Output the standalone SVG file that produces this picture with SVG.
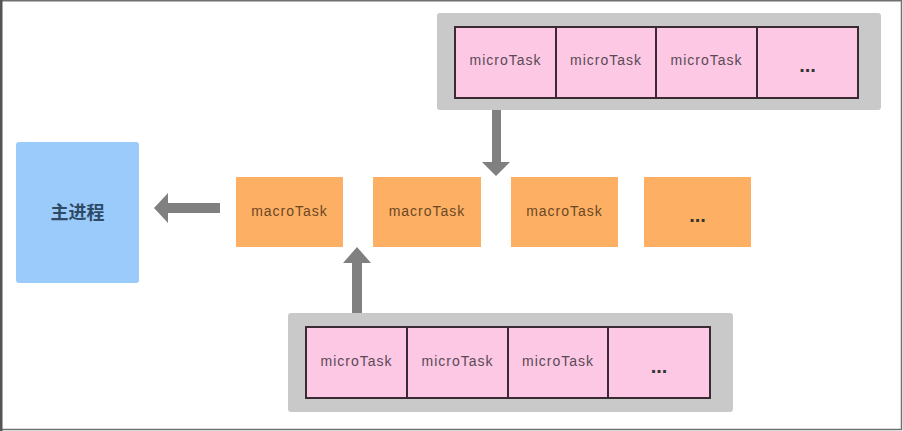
<svg xmlns="http://www.w3.org/2000/svg" width="903" height="431" viewBox="0 0 903 431">
<defs>
<style>
.frame{fill:#fff;stroke:#707070;stroke-width:1.5}
.main{fill:#9ACBFA}
.mainT{font-family:"Noto Sans CJK SC","Liberation Sans",sans-serif;font-size:18px;font-weight:bold;fill:#2E4A66}
.macro{fill:#FDB063}
.macroT{font-family:"Liberation Sans",Arial,sans-serif;font-size:14px;letter-spacing:1px;fill:#6B4726}
.tray{fill:#C9C9C9}
.cell{fill:#FCC8E4;stroke:#3A2A33;stroke-width:2}
.microT{font-family:"Liberation Sans",Arial,sans-serif;font-size:14px;letter-spacing:1px;fill:#5A4A55}
.dots{font-family:"Liberation Sans",Arial,sans-serif;font-size:20px;font-weight:bold;fill:#333}
.arrow{fill:#808080}
</style>
</defs>
<rect class="frame" x="1" y="0.75" width="900.5" height="428.75"/>
<rect x="0" y="0" width="2.5" height="431" fill="#555"/>

<g id="main-process">
<rect class="main" x="16" y="142" width="123" height="141" rx="3"/>
<text class="mainT" x="77.5" y="219" text-anchor="middle">主进程</text>
</g>

<g id="macro1">
<rect class="macro" x="236" y="177" width="107" height="70"/>
<text class="macroT" x="289.5" y="216" text-anchor="middle">macroTask</text>
</g>
<g id="macro2">
<rect class="macro" x="373" y="177" width="108" height="70"/>
<text class="macroT" x="427" y="216" text-anchor="middle">macroTask</text>
</g>
<g id="macro3">
<rect class="macro" x="511" y="177" width="107" height="70"/>
<text class="macroT" x="564.5" y="216" text-anchor="middle">macroTask</text>
</g>
<g id="macro4">
<rect class="macro" x="644" y="177" width="107" height="70"/>
<text class="dots" x="697.5" y="222" text-anchor="middle">...</text>
</g>

<g id="micro-queue-top">
<rect class="tray" x="437" y="13" width="444" height="97" rx="3"/>
<rect class="cell" x="455" y="27" width="101" height="71"/>
<rect class="cell" x="556" y="27" width="100" height="71"/>
<rect class="cell" x="656" y="27" width="101" height="71"/>
<rect class="cell" x="757" y="27" width="101" height="71"/>
<text class="microT" x="505.5" y="65" text-anchor="middle">microTask</text>
<text class="microT" x="606" y="65" text-anchor="middle">microTask</text>
<text class="microT" x="706.5" y="65" text-anchor="middle">microTask</text>
<text class="dots" x="807.5" y="72" text-anchor="middle">...</text>
</g>

<g id="micro-queue-bottom">
<rect class="tray" x="288" y="313" width="445" height="99" rx="3"/>
<rect class="cell" x="306" y="327" width="101" height="71"/>
<rect class="cell" x="407" y="327" width="101" height="71"/>
<rect class="cell" x="508" y="327" width="100" height="71"/>
<rect class="cell" x="608" y="327" width="102" height="71"/>
<text class="microT" x="356.5" y="366" text-anchor="middle">microTask</text>
<text class="microT" x="457.5" y="366" text-anchor="middle">microTask</text>
<text class="microT" x="558" y="366" text-anchor="middle">microTask</text>
<text class="dots" x="659" y="373" text-anchor="middle">...</text>
</g>

<g id="connectors">
<polygon class="arrow" points="220,203 168,203 168,193 154,208 168,223 168,213 220,213"/>
<polygon class="arrow" points="492,110 501,110 501,162 510,162 496,176 482,162 492,162"/>
<polygon class="arrow" points="352,313 362,313 362,263 371,263 357,247 343,263 352,263"/>
</g>
</svg>
